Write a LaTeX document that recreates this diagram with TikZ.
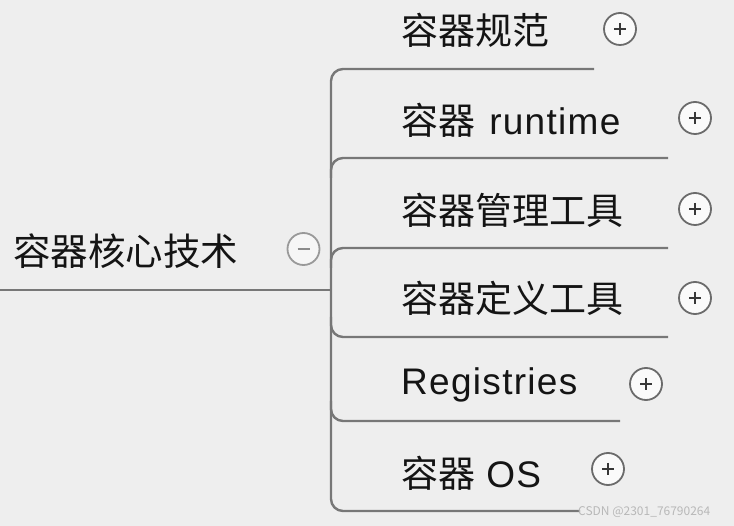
\documentclass[tikz,border=0pt]{standalone}
\usepackage{fontspec}
\setmainfont{Noto Sans CJK SC}
\newfontfamily\latf[LetterSpace=3.5]{Liberation Sans}
\definecolor{bg}{HTML}{EEEEEE}
\definecolor{ln}{HTML}{777777}
\definecolor{wm}{HTML}{B8B8B8}
\begin{document}
\begin{tikzpicture}[x=1pt,y=-1pt,
  lbl/.style={anchor=west,inner sep=0pt,font=\fontsize{37}{42}\selectfont,text=black!92},
  tog/.style={circle,draw=ln!90!black,line width=1.8pt,fill=white!70!bg,minimum size=32pt,inner sep=0pt},
  plustog/.style={tog,path picture={\draw[line width=2.4pt,black!78]
      (path picture bounding box.center) +(-6,0) -- +(6,0) +(0,-6) -- +(0,6);}},
  minustog/.style={tog,draw=ln!75,fill=white!50!bg,path picture={\draw[line width=2.2pt,ln!85]
      (path picture bounding box.center) +(-6,0) -- +(6,0);}},
  branch/.style={draw=ln,line width=2.4pt,rounded corners=12pt}]
\fill[bg] (0,0) rectangle (734,526);
\useasboundingbox (0,0) rectangle (734,526);
% root
\node[lbl,font=\fontsize{37.5}{42}\selectfont] (root) at (13,251) {容器核心技术};
\node[minustog] (rtog) at (303.5,249) {};
\coordinate (r0) at (0,290);
\coordinate (jn) at (331,290);
\draw[branch] (r0) -- (jn);
% children
\node[lbl] (c1) at (401,30) {容器规范};
\node[lbl] (c2) at (401,120) {容器\hspace{0.38em}{\latf runtime}};
\node[lbl] (c3) at (401,210) {容器管理工具};
\node[lbl] (c4) at (401,298) {容器定义工具};
\node[lbl] (c5) at (401,385) {{\latf Registries}};
\node[lbl] (c6) at (401,473) {容器\hspace{0.3em}{\latf OS}};
\node[plustog] (p1) at (620,29) {};
\node[plustog] (p2) at (695,118) {};
\node[plustog] (p3) at (695,209) {};
\node[plustog] (p4) at (695,298) {};
\node[plustog] (p5) at (646,384) {};
\node[plustog] (p6) at (608,469) {};
% underline ends
\coordinate (e1) at (594,69);
\coordinate (e2) at (668,158);
\coordinate (e3) at (668,248);
\coordinate (e4) at (668,337);
\coordinate (e5) at (620,421);
\coordinate (e6) at (580,511);
% trunk with top and bottom branches
\draw[branch] (e1) -| (jn) |- (e6);
\draw[branch] (e2) -| ([yshift=-20pt]jn |- e2);
\draw[branch] (e3) -| ([yshift=-20pt]jn |- e3);
\draw[branch] (e4) -| ([yshift=20pt]jn |- e4);
\draw[branch] (e5) -| ([yshift=20pt]jn |- e5);
% watermark
\node[anchor=west,inner sep=0pt,font=\fontsize{12}{14}\selectfont,text=wm] (wmk) at (578,512) {CSDN @2301\_76790264};
\end{tikzpicture}
\end{document}
